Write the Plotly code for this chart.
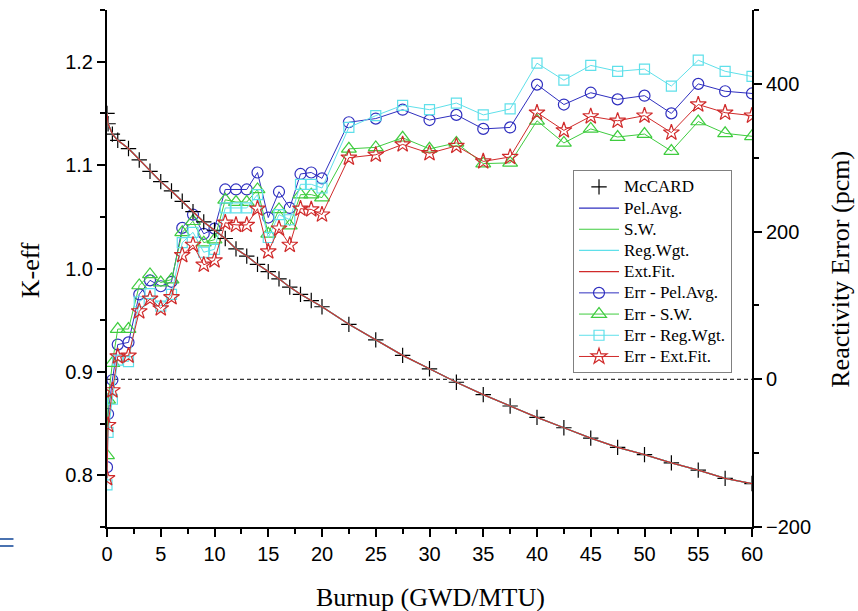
import plotly.graph_objects as go

# Burnup steps (GWD/MTU)
burnup = [0, 0.1, 0.5, 1, 2, 3, 4, 5, 6, 7, 8, 9, 10, 11, 12, 13, 14, 15, 16, 17, 18, 19, 20,
          22.5, 25, 27.5, 30, 32.5, 35, 37.5, 40, 42.5, 45, 47.5, 50, 52.5, 55, 57.5, 60]

# Reference multiplication factor (McCARD)
k_mccard = [1.150, 1.140, 1.130, 1.124, 1.116, 1.105, 1.094, 1.084, 1.075, 1.065, 1.055, 1.045,
            1.037, 1.029, 1.019, 1.012, 1.004, 0.997, 0.990, 0.982, 0.975, 0.969, 0.963,
            0.946, 0.931, 0.916, 0.903, 0.890, 0.878, 0.867, 0.856, 0.846, 0.836, 0.827,
            0.820, 0.812, 0.805, 0.797, 0.792]

# Model k-eff curves (coincide with the reference on this scale)
k_pel_avg = k_mccard
k_sw = k_mccard
k_reg_wgt = k_mccard
k_ext_fit = k_mccard

# Reactivity errors (pcm)
err_pel_avg = [-119, -47, -1, 47, 50, 115, 134, 126, 132, 205, 223, 197, 204, 257, 257, 257, 280,
               219, 254, 232, 278, 280, 272, 348, 353, 365, 351, 358, 339, 341, 399, 372, 388,
               379, 384, 360, 400, 390, 387]
err_sw = [-103, -28, 22, 68, 68, 127, 142, 131, 135, 199, 214, 185, 189, 243, 240, 240, 257,
          197, 230, 208, 250, 250, 246, 312, 314, 327, 312, 320, 292, 293, 350, 320, 339,
          328, 332, 309, 349, 333, 329]
err_reg_wgt = [-143, -72, -27, 26, 24, 105, 116, 99, 115, 185, 199, 172, 176, 232, 232, 232, 250,
               192, 223, 216, 264, 264, 259, 341, 357, 371, 365, 374, 358, 366, 428, 405, 425,
               417, 420, 397, 432, 417, 410]
err_ext_fit = [-134, -62, -15, 31, 32, 92, 109, 96, 111, 168, 182, 155, 161, 212, 209, 209, 231,
               173, 204, 182, 231, 230, 223, 300, 304, 318, 306, 316, 295, 301, 361, 337, 356,
               350, 357, 334, 372, 361, 357]

BLUE = "#2f2fbf"
GREEN = "#3fcc3f"
CYAN = "#5fe0ea"
RED = "#d02a2a"


def legend_label(text):
    # larger glyphs than the legend row height would otherwise allow
    return '<span style="font-size:17px">' + text + "</span>"


fig = go.Figure()

# k-eff traces on the left axis (y2)
fig.add_trace(go.Scatter(x=burnup, y=k_mccard, name=legend_label("McCARD"), mode="markers",
                         yaxis="y2",
                         marker=dict(symbol="cross-thin", size=11, color="black",
                                     line=dict(color="black", width=1.2))))
for name, vals, col in [("Pel.Avg.", k_pel_avg, BLUE), ("S.W.", k_sw, GREEN),
                        ("Reg.Wgt.", k_reg_wgt, CYAN), ("Ext.Fit.", k_ext_fit, RED)]:
    fig.add_trace(go.Scatter(x=burnup, y=vals, name=legend_label(name), mode="lines",
                             yaxis="y2", line=dict(color=col, width=1.2)))

# Reactivity error traces on the right axis (y)
for name, vals, col, sym, sz in [
        ("Err - Pel.Avg.", err_pel_avg, BLUE, "circle-open", 11),
        ("Err - S.W.", err_sw, GREEN, "triangle-up-open", 13),
        ("Err - Reg.Wgt.", err_reg_wgt, CYAN, "square-open", 10),
        ("Err - Ext.Fit.", err_ext_fit, RED, "star-open", 12)]:
    fig.add_trace(go.Scatter(x=burnup, y=vals, name=legend_label(name), mode="lines+markers",
                             yaxis="y",
                             line=dict(color=col, width=1),
                             marker=dict(symbol=sym, size=sz, color=col,
                                         line=dict(color=col, width=1.2))))

tickfont = dict(family="Liberation Sans, Arial, sans-serif", size=20, color="black")
title_font = dict(family="Liberation Serif, Times New Roman, serif", size=26, color="black")

fig.update_layout(
    width=858, height=611,
    margin=dict(l=107, r=106, t=10, b=84),
    paper_bgcolor="white", plot_bgcolor="white",
    showlegend=True,
    legend=dict(x=0.7225, y=0.69, xanchor="left", yanchor="top",
                bgcolor="white", bordercolor="#808080", borderwidth=1,
                font=dict(family="Liberation Serif, Times New Roman, serif", size=14,
                          color="black"),
                tracegroupgap=0, itemwidth=40),
    xaxis=dict(range=[0, 60], dtick=5, tick0=0, showgrid=False, zeroline=False,
               showline=True, linecolor="black", linewidth=2, mirror=False,
               ticks="outside", ticklen=8, tickwidth=2, tickcolor="black",
               tickfont=tickfont,
               minor=dict(dtick=2.5, ticks="outside", ticklen=5, tickwidth=1.5,
                          tickcolor="black", showgrid=False)),
    yaxis=dict(range=[-200, 500], dtick=200, tick0=0, side="right",
               showgrid=False, zeroline=False,
               showline=True, linecolor="black", linewidth=2,
               ticks="outside", ticklen=8, tickwidth=2, tickcolor="black",
               tickfont=tickfont,
               minor=dict(dtick=100, ticks="outside", ticklen=5, tickwidth=1.5,
                          tickcolor="black", showgrid=False)),
    yaxis2=dict(range=[0.75, 1.25], dtick=0.1, tick0=0.8, side="left", overlaying="y",
                tickformat=".1f", showgrid=False, zeroline=False,
                showline=True, linecolor="black", linewidth=2,
                ticks="outside", ticklen=8, tickwidth=2, tickcolor="black",
                tickfont=tickfont,
                minor=dict(dtick=0.05, ticks="outside", ticklen=5, tickwidth=1.5,
                           tickcolor="black", showgrid=False)),
    shapes=[
        # zero reactivity error reference line
        dict(type="line", xref="x", yref="y", x0=0, x1=60, y0=0, y1=0, layer="below",
             line=dict(color="black", width=1, dash="4px,3px")),
        dict(type="line", xref="paper", yref="paper", x0=-0.166, x1=-0.145,
             y0=-0.0232, y1=-0.0232, line=dict(color="#4a72b0", width=2)),
        dict(type="line", xref="paper", yref="paper", x0=-0.166, x1=-0.145,
             y0=-0.0368, y1=-0.0368, line=dict(color="#4a72b0", width=2)),
    ],
    annotations=[
        dict(text="K-eff", xref="paper", yref="paper", x=-0.119, y=0.497,
             textangle=-90, showarrow=False, font=title_font,
             xanchor="center", yanchor="middle"),
        dict(text="Reactivity Error (pcm)", xref="paper", yref="paper", x=1.136, y=0.499,
             textangle=-90, showarrow=False, font=title_font,
             xanchor="center", yanchor="middle"),
        dict(text="Burnup (GWD/MTU)", xref="paper", yref="paper", x=0.5008, y=-0.1354,
             showarrow=False, font=title_font, xanchor="center", yanchor="middle"),
    ],
)

fig.write_html("out.html")
